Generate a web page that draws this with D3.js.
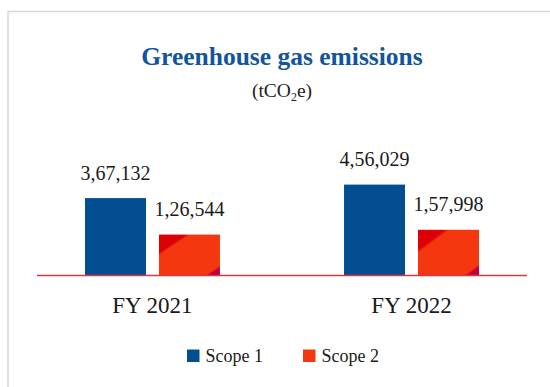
<!DOCTYPE html>
<html>
<head>
<meta charset="utf-8">
<script src="https://cdn.jsdelivr.net/npm/d3@7"></script>
<style>
  html, body { margin: 0; padding: 0; background: #fff; }
  svg { display: block; font-family: "Liberation Serif", "Times New Roman", serif; }
</style>
</head>
<body>
<svg id="chart" width="550" height="387"></svg>
<script>
// ---- data ----
const categories = ["FY 2021", "FY 2022"];
const seriesNames = ["Scope 1", "Scope 2"];
const scope1 = [367132, 456029];
const scope2 = [126544, 157998];
const valueLabels1 = ["3,67,132", "4,56,029"];
const valueLabels2 = ["1,26,544", "1,57,998"];
const title = "Greenhouse gas emissions";

const seriesValues = [scope1, scope2];
const seriesLabels = [valueLabels1, valueLabels2];

const svg = d3.select("#chart");
const baseline = 275;

// frame
svg.append("rect")
  .attr("x", 8).attr("y", 11.5)
  .attr("width", 700).attr("height", 600)
  .attr("fill", "none")
  .attr("stroke", "#d8d8d8")
  .attr("stroke-width", 1.5);

// gradient for scope 2
const defs = svg.append("defs");
const grad = defs.append("linearGradient")
  .attr("id", "scope2grad")
  .attr("x1", 0).attr("y1", 0).attr("x2", 1).attr("y2", 1);
[[0, "#dc0006"], [0.22, "#dc0006"], [0.26, "#f5370f"], [0.88, "#f5370f"], [0.91, "#c4003a"], [1, "#c4003a"]]
  .forEach(([o, c]) => grad.append("stop").attr("offset", o).attr("stop-color", c));

const colors = ["#034e91", "url(#scope2grad)"];
const legendColors = ["#034e91", "#f5370f"];

// scales
const x0 = d3.scaleBand().domain(categories).range([85, 479]).paddingInner(0.479).paddingOuter(0);
const x1 = d3.scaleBand().domain(seriesNames).range([0, x0.bandwidth()]).paddingInner(0.1757).paddingOuter(0);
const y = d3.scaleLinear().domain([-140000, 460000]).range([baseline, baseline - 91]);

// title
svg.append("text")
  .attr("x", 282).attr("y", 64.5)
  .attr("text-anchor", "middle")
  .attr("font-size", 25.5).attr("font-weight", "bold")
  .attr("fill", "#11559e")
  .text(title);

const sub = svg.append("text")
  .attr("x", 282).attr("y", 97)
  .attr("text-anchor", "middle")
  .attr("font-size", 19.5)
  .attr("fill", "#222");
sub.append("tspan").text("(tCO");
sub.append("tspan").attr("font-size", 12).attr("dy", 4).text("2");
sub.append("tspan").attr("dy", -4).text("e)");

// bars
const groups = svg.append("g").selectAll("g")
  .data(categories)
  .join("g")
  .attr("transform", d => `translate(${x0(d)},0)`);

groups.each(function(cat, ci) {
  const g = d3.select(this);
  seriesNames.forEach((s, si) => {
    const v = seriesValues[si][ci];
    g.append("rect")
      .attr("x", x1(s))
      .attr("y", y(v))
      .attr("width", x1.bandwidth())
      .attr("height", baseline - y(v))
      .attr("fill", colors[si]);
    g.append("text")
      .attr("x", x1(s) + x1.bandwidth() / 2)
      .attr("y", y(v) - 18.5)
      .attr("text-anchor", "middle")
      .attr("font-size", 20)
      .attr("fill", "#1a1a1a")
      .text(seriesLabels[si][ci]);
  });
});

// axis line
svg.append("line")
  .attr("x1", 37).attr("x2", 527)
  .attr("y1", baseline + 0.5).attr("y2", baseline + 0.5)
  .attr("stroke", "#d23a40").attr("stroke-width", 1.5);

// category labels
svg.append("g").selectAll("text")
  .data(categories)
  .join("text")
  .attr("x", d => x0(d) + x0.bandwidth() / 2)
  .attr("y", 312.5)
  .attr("text-anchor", "middle")
  .attr("font-size", 23)
  .attr("fill", "#1a1a1a")
  .text(d => d);

// legend
const legendX = [187, 303];
const lg = svg.append("g").selectAll("g")
  .data(seriesNames)
  .join("g")
  .attr("transform", (d, i) => `translate(${legendX[i]},349.5)`);
lg.append("rect").attr("width", 12.5).attr("height", 12.5).attr("fill", (d, i) => legendColors[i]);
lg.append("text").attr("x", 18.5).attr("y", 12.5).attr("font-size", 18).attr("fill", "#1a1a1a").text(d => d);
</script>
</body>
</html>
